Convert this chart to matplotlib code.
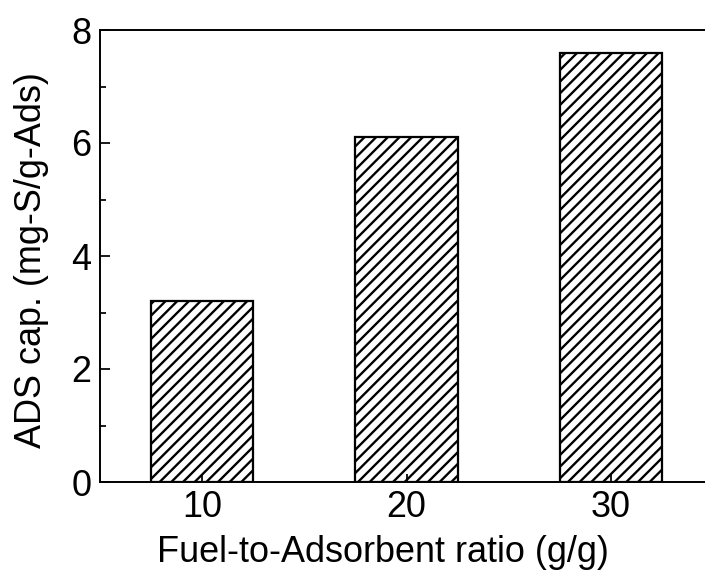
import matplotlib.pyplot as plt
from matplotlib.ticker import MultipleLocator

# data
ratios = [10, 20, 30]
capacity = [3.2, 6.1, 7.6]

DPI = 70
plt.rcParams['font.family'] = ['Liberation Sans', 'DejaVu Sans']
plt.rcParams['hatch.linewidth'] = 2.4

fig = plt.figure(figsize=(705 / DPI, 574 / DPI), dpi=DPI)
# axes runs a little past the right edge, as in the cropped original
ax = fig.add_axes([100 / 705, (574 - 482) / 574, 613 / 705, 452 / 574])

ax.bar(ratios, capacity, width=5, color='white', edgecolor='black',
       linewidth=2.3, hatch='//')

ax.set_xlim(5, 35)
ax.set_ylim(0, 8)
ax.set_xticks(ratios)
ax.yaxis.set_major_locator(MultipleLocator(2))
ax.yaxis.set_minor_locator(MultipleLocator(1))

ax.tick_params(axis='both', which='both', direction='in', width=1.8,
               labelsize=37, top=False, right=False)
ax.tick_params(axis='y', which='major', length=10, pad=9)
ax.tick_params(axis='y', which='minor', length=6)
ax.tick_params(axis='x', which='major', length=8, pad=8)

for s in ax.spines.values():
    s.set_linewidth(2)
ax.spines['right'].set_visible(False)

ax.set_xlabel('Fuel-to-Adsorbent ratio (g/g)', fontsize=37)
ax.set_ylabel('ADS cap. (mg-S/g-Ads)', fontsize=37)
ax.xaxis.set_label_coords(0.4617, -0.117)
ax.yaxis.set_label_coords(-0.083, 0.491)

plt.savefig('out.png', dpi=DPI)
